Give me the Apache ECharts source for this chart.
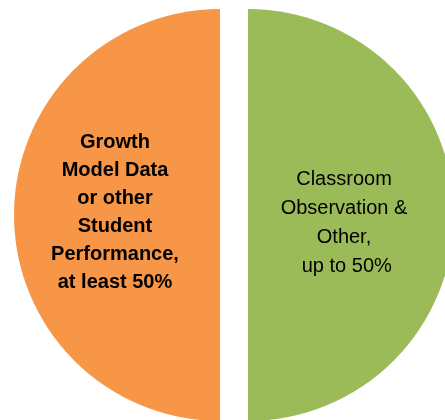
<!DOCTYPE html>
<html>
<head>
<meta charset="utf-8">
<script src="https://cdn.jsdelivr.net/npm/echarts@6/dist/echarts.min.js"></script>
<style>
  html, body { margin: 0; padding: 0; background: #fff; }
  #main { width: 445px; height: 420px; }
</style>
</head>
<body>
<div id="main"></div>
<script>
// two halves of the evaluation
var names = [
    'Growth\nModel Data\nor other\nStudent\nPerformance,\nat least 50%',
    'Classroom\nObservation &\nOther,\n up to 50%'
];
var values = [50, 50];
var colors = ['#F79646', '#9BBB59'];

var myChart = echarts.init(document.getElementById('main'));

option = {
    animation: false,
    series: [{
        type: 'pie',
        center: [234, 215],
        radius: [0, 206],
        startAngle: 90,
        clockwise: false,     // first slice goes on the left
        selectedMode: 'multiple',
        selectedOffset: 14,
        emphasis: { disabled: true },
        label: {
            show: true,
            position: 'inside',
            formatter: '{b}',
            color: '#000',
            fontFamily: 'Liberation Sans, Arial, sans-serif'
        },
        labelLine: { show: false },
        // nudge the text a little, like the original
        labelLayout: function (p) {
            return p.dataIndex === 1 ? { dx: -10, dy: 8 } : { dx: 1, dy: -3 };
        },
        data: [
            {
                name: names[0], value: values[0], selected: true,
                itemStyle: { color: colors[0] },
                label: { fontSize: 20, fontWeight: 'bold', lineHeight: 28 }
            },
            {
                name: names[1], value: values[1], selected: true,
                itemStyle: { color: colors[1] },
                label: { fontSize: 20, fontWeight: 'normal', lineHeight: 29 }
            }
        ]
    }]
};

myChart.setOption(option, true);
window.addEventListener("resize", function () {
    myChart.resize();
});
</script>
</body>
</html>
